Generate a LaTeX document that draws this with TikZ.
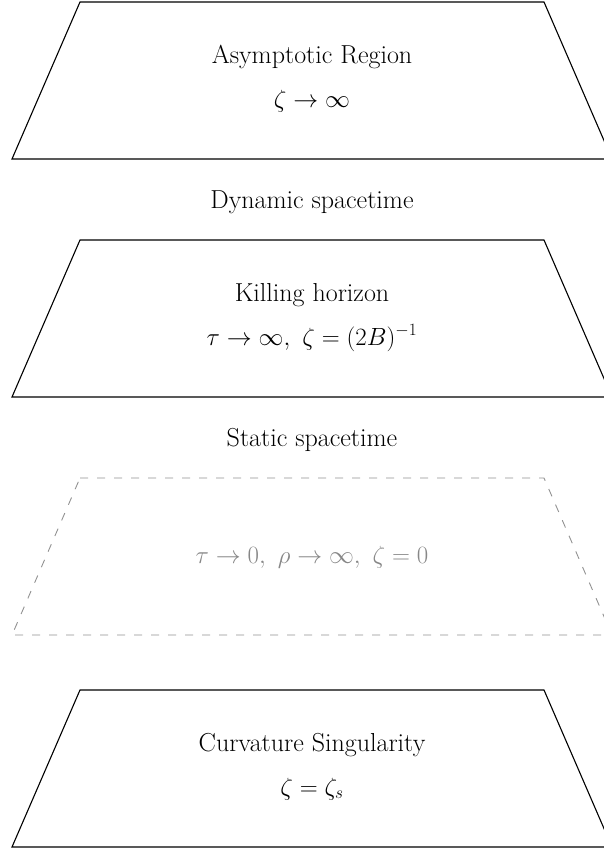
\documentclass[tikz,border=0pt]{standalone}
\definecolor{ghostgray}{RGB}{145,145,145}
\definecolor{ghosttext}{RGB}{135,135,135}
\begin{document}
\begin{tikzpicture}[x=1pt,y=-1pt,
  plane/.style={draw=black,line width=1.1pt,line join=miter},
  ghostplane/.style={draw=ghostgray,line width=0.9pt,dash pattern=on 8pt off 9pt},
  lbl/.style={font=\fontsize{26}{31}\selectfont,inner sep=0pt,anchor=base},
  ghostlbl/.style={lbl,text=ghosttext}]
\useasboundingbox (0,0) rectangle (604,849);
\clip (0,0) rectangle (604,849);
% solid planes
\foreach \t in {2,240,690}{
  \draw[plane] (80,\t) -- (544,\t) -- (612,\t+157) -- (12,\t+157) -- cycle;
}
% dashed plane
\draw[ghostplane] (80,478) -- (544,478) -- (612,635) -- (12,635) -- cycle;
% texts
\node[lbl] (t1) at (312,63) {Asymptotic Region};
\node[lbl] (f1) at (312,107) {$\zeta\to\infty$};
\node[lbl] (dyn) at (312,208) {Dynamic spacetime};
\node[lbl] (t2) at (312,301) {Killing horizon};
\node[lbl] (f2) at (312,345) {$\tau\to\infty,\ \zeta=(2B)^{-1}$};
\node[lbl] (stat) at (312,446) {Static spacetime};
\node[ghostlbl] (f3) at (312,563) {$\tau\to 0,\ \rho\to\infty,\ \zeta=0$};
\node[lbl] (t4) at (312,751) {Curvature Singularity};
\node[lbl] (f4) at (312,795) {$\zeta=\zeta_s$};
\end{tikzpicture}
\end{document}
